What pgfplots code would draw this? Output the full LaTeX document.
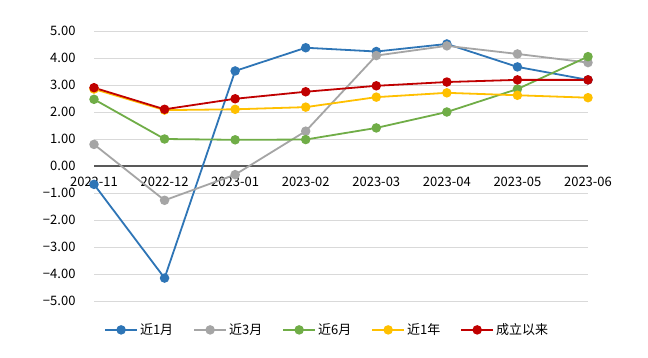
\documentclass[border=0pt]{standalone}
\usepackage{pgfplots}
\pgfplotsset{compat=1.18}
\usepackage{fontspec}
\setmainfont{Noto Sans CJK SC}
\definecolor{cblue}{HTML}{2E75B6}
\definecolor{cgray}{HTML}{A5A5A5}
\definecolor{cgreen}{HTML}{70AD47}
\definecolor{cyellow}{HTML}{FFC000}
\definecolor{cred}{HTML}{C00000}
\definecolor{gridc}{HTML}{D9D9D9}
\definecolor{axc}{HTML}{595959}
\begin{document}
\begin{tikzpicture}[x=1pt,y=1pt]
\useasboundingbox[fill=white] (0,0) rectangle (648,357);
\begin{axis}[
  at={(94pt,56pt)}, anchor=south west,
  scale only axis, width=494pt, height=270pt,
  xmin=0, xmax=7, ymin=-5, ymax=5,
  axis line style={draw=none},
  xtick={0,...,7},
  xticklabels={2022-11,2022-12,2023-01,2023-02,2023-03,2023-04,2023-05,2023-06},
  ytick={-5,-4,-3,-2,-1,1,2,3,4,5},
  yticklabels={−5.00,−4.00,−3.00,−2.00,−1.00,1.00,2.00,3.00,4.00,5.00},
  extra y ticks={0}, extra y tick labels={0.00},
  extra y tick style={grid style={draw=axc, line width=1.3pt}},
  major tick length=0pt,
  ymajorgrids, grid style={draw=gridc, line width=0.9pt},
  tick label style={font=\fontsize{13}{15}\selectfont, text=black},
  xticklabel style={anchor=north, yshift=127pt},
  yticklabel style={xshift=-15pt},
  clip=false,
  every axis plot/.append style={line width=1.8pt, mark=*, mark size=3.8pt},
  legend columns=5,
  legend cell align=left,
  legend style={at={(0.472,-0.107)}, anchor=center, draw=none, fill=none,
    font=\fontsize{13}{15}\selectfont, /tikz/every even column/.append style={column sep=18pt},
    /tikz/every odd column/.append style={column sep=0pt}},
  legend image code/.code={\draw[mark repeat=2,mark phase=2] plot coordinates {(0pt,0pt)(16pt,0pt)(32pt,0pt)};},
]
\addplot[color=cblue, mark options={fill=cblue}] coordinates {(0,-0.68)(1,-4.15)(2,3.52)(3,4.38)(4,4.24)(5,4.52)(6,3.67)(7,3.19)};
\addlegendentry{近1月}
\addplot[color=cgray, mark options={fill=cgray}] coordinates {(0,0.80)(1,-1.27)(2,-0.32)(3,1.29)(4,4.09)(5,4.45)(6,4.15)(7,3.83)};
\addlegendentry{近3月}
\addplot[color=cgreen, mark options={fill=cgreen}] coordinates {(0,2.47)(1,1.00)(2,0.97)(3,0.98)(4,1.41)(5,2.00)(6,2.85)(7,4.05)};
\addlegendentry{近6月}
\addplot[color=cyellow, mark options={fill=cyellow}] coordinates {(0,2.85)(1,2.07)(2,2.10)(3,2.18)(4,2.55)(5,2.71)(6,2.62)(7,2.53)};
\addlegendentry{近1年}
\addplot[color=cred, mark options={fill=cred}] coordinates {(0,2.90)(1,2.10)(2,2.49)(3,2.75)(4,2.97)(5,3.11)(6,3.19)(7,3.19)};
\addlegendentry{成立以来}
\end{axis}
\end{tikzpicture}
\end{document}
